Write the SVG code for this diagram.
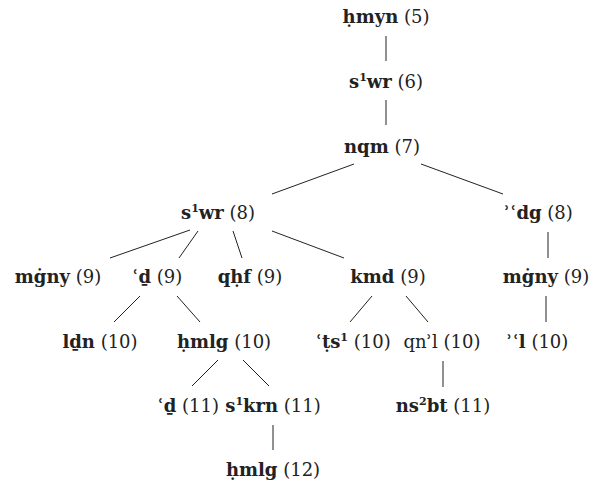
<svg xmlns="http://www.w3.org/2000/svg" width="593" height="489" viewBox="0 0 593 489">
<style>
text{font-family:"DejaVu Serif","Liberation Serif",serif;font-size:18px;fill:#222;text-anchor:middle}
.b{font-weight:bold}
.s{font-size:11px}
line{stroke:#222;stroke-width:1}
</style>
<rect width="593" height="489" fill="#fff"/>
<g id="connectors">
<line x1="386" y1="36" x2="386" y2="61"/>
<line x1="386" y1="100" x2="386" y2="125"/>
<line x1="354" y1="164" x2="272" y2="194"/>
<line x1="421" y1="164" x2="503" y2="194"/>
<line x1="548" y1="232" x2="548" y2="258"/>
<line x1="546" y1="296" x2="546" y2="322"/>
<line x1="190" y1="230" x2="110" y2="258"/>
<line x1="198" y1="231" x2="179" y2="258"/>
<line x1="233" y1="231" x2="242" y2="258"/>
<line x1="272" y1="231" x2="344" y2="258"/>
<line x1="140" y1="296" x2="114" y2="322"/>
<line x1="177" y1="296" x2="200" y2="322"/>
<line x1="372" y1="296" x2="350" y2="322"/>
<line x1="406" y1="296" x2="428" y2="322"/>
<line x1="218" y1="360" x2="192" y2="386"/>
<line x1="243" y1="360" x2="269" y2="386"/>
<line x1="443" y1="361" x2="443" y2="387"/>
<line x1="273" y1="425" x2="273" y2="450"/>
</g>
<g id="n5"><text x="386" y="23"><tspan class="b">ḥmyn</tspan> (5)</text></g>
<g id="n6"><text x="386" y="88"><tspan class="b">s<tspan class="s" dy="-7">1</tspan><tspan dy="7">wr</tspan></tspan> (6)</text></g>
<g id="n7"><text x="382" y="153"><tspan class="b">nqm</tspan> (7)</text></g>
<g id="n8a"><text x="218" y="219"><tspan class="b">s<tspan class="s" dy="-7">1</tspan><tspan dy="7">wr</tspan></tspan> (8)</text></g>
<g id="n8b"><text x="538" y="219"><tspan class="b">ʾʿdg</tspan> (8)</text></g>
<g id="n9a"><text x="58" y="283"><tspan class="b">mġny</tspan> (9)</text></g>
<g id="n9b"><text x="157" y="283"><tspan class="b">ʿḏ</tspan> (9)</text></g>
<g id="n9c"><text x="250" y="283"><tspan class="b">qḥf</tspan> (9)</text></g>
<g id="n9d"><text x="388" y="283"><tspan class="b">kmd</tspan> (9)</text></g>
<g id="n9e"><text x="546" y="283"><tspan class="b">mġny</tspan> (9)</text></g>
<g id="n10a"><text x="100" y="348"><tspan class="b">lḏn</tspan> (10)</text></g>
<g id="n10b"><text x="224" y="348"><tspan class="b">ḥmlg</tspan> (10)</text></g>
<g id="n10c"><text x="353" y="348"><tspan class="b">ʿṭs<tspan class="s" dy="-7">1</tspan></tspan><tspan dy="7"> (10)</tspan></text></g>
<g id="n10d"><text x="442" y="348">qnʾl (10)</text></g>
<g id="n10e"><text x="537" y="348"><tspan class="b">ʾʿl</tspan> (10)</text></g>
<g id="n11a"><text x="188" y="412"><tspan class="b">ʿḏ</tspan> (11)</text></g>
<g id="n11b"><text x="273" y="412"><tspan class="b">s<tspan class="s" dy="-7">1</tspan><tspan dy="7">krn</tspan></tspan> (11)</text></g>
<g id="n11c"><text x="443" y="412"><tspan class="b">ns<tspan class="s" dy="-7">2</tspan><tspan dy="7">bt</tspan></tspan> (11)</text></g>
<g id="n12"><text x="273" y="476"><tspan class="b">ḥmlg</tspan> (12)</text></g>
</svg>
